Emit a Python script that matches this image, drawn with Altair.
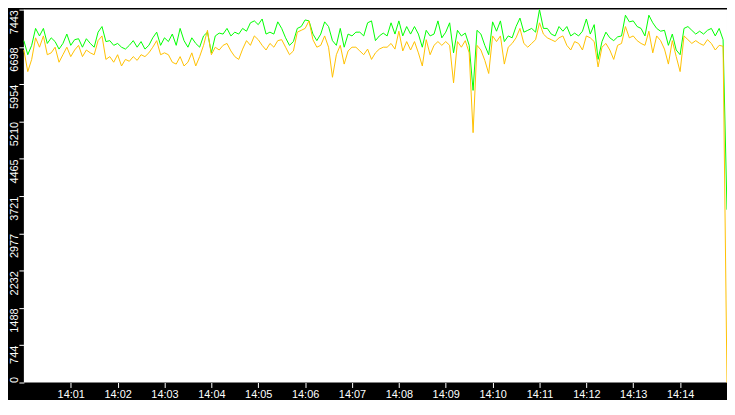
import altair as alt
import pandas as pd

# Series values (one point every 5 seconds, 14:00:00 .. 14:15:00)
green_vals = [
    6824, 6543, 6730, 7068, 6918, 7068, 6768, 6880, 6805, 6655,
    6768, 6955, 6730, 6843, 6862, 6693, 6862, 6768, 6693, 6993,
    7105, 6805, 6824, 6730, 6768, 6693, 6655, 6730, 6824, 6693,
    6805, 6655, 6730, 6880, 6993, 6730, 6880, 6805, 6955, 6730,
    7068, 6824, 6693, 6880, 6768, 6693, 6918, 6993, 6580, 6918,
    6974, 6955, 7068, 6918, 6993, 6955, 7068, 7012, 7180, 7218,
    7143, 7256, 6955, 6993, 6955, 7199, 7068, 6880, 6730, 6805,
    7068, 7105, 7237, 7218, 6955, 6824, 6955, 7199, 7105, 6824,
    6730, 7068, 6693, 6955, 6918, 6993, 6993, 6918, 7180, 7218,
    6824, 6918, 6974, 6918, 7180, 6955, 7218, 6918, 7105, 6955,
    7105, 6955, 6693, 7030, 6918, 6955, 7218, 6880, 6993, 7180,
    6580, 7030, 6918, 6974, 6730, 5831, 7030, 6955, 6730, 6543,
    7199, 7012, 7218, 6805, 6918, 6880, 7105, 7274, 6993, 7030,
    7068, 6993, 7443, 7068, 7068, 6955, 6918, 7105, 7012, 7105,
    6918, 6974, 6918, 7012, 7256, 6955, 7143, 6449, 6805, 6993,
    6880, 6824, 6899, 6918, 7331, 7199, 7218, 7105, 7068, 6918,
    7331, 7180, 7068, 7012, 7030, 6730, 6955, 6637, 6543, 7068,
    7105, 7030, 6955, 7012, 6955, 7030, 7068, 6918, 7068, 6843,
    3449,
]
orange_vals = [
    6637, 6206, 6449, 6880, 6693, 6918, 6543, 6580, 6693, 6393,
    6543, 6693, 6505, 6637, 6730, 6505, 6637, 6580, 6543, 6824,
    6918, 6449, 6505, 6393, 6543, 6318, 6449, 6412, 6505, 6430,
    6543, 6505, 6580, 6693, 6824, 6543, 6580, 6543, 6393, 6356,
    6505, 6318, 6393, 6580, 6318, 6505, 6730, 7030, 6543, 6693,
    6637, 6730, 6768, 6618, 6505, 6449, 6655, 6824, 6730, 6918,
    6843, 6730, 6637, 6768, 6693, 6824, 6843, 6693, 6543, 6618,
    6993, 7030, 7068, 7218, 6843, 6693, 6730, 6918, 6693, 6093,
    6543, 6730, 6356, 6618, 6693, 6693, 6618, 6543, 6655, 6449,
    6580, 6655, 6693, 6693, 6768, 6655, 7012, 6618, 6805, 6637,
    6805, 6580, 6318, 6843, 6543, 6730, 6805, 6730, 6805, 6730,
    5981, 6805, 6693, 6824, 6580, 4987, 6730, 6637, 6430, 6168,
    6918, 6805, 6918, 6356, 6693, 6768, 6880, 7068, 6768, 6693,
    6768, 6843, 7180, 6955, 6880, 6843, 6805, 6880, 6918, 6730,
    6637, 6805, 6768, 6637, 6918, 6880, 6805, 6299, 6693, 6768,
    6637, 6449, 6730, 6768, 7105, 6880, 6918, 6824, 6768, 6730,
    7012, 6580, 6918, 6824, 6655, 6356, 6824, 6505, 6206, 6918,
    6843, 6768, 6824, 6768, 6730, 6843, 6768, 6637, 6730, 6712,
    0,
]

# Axis tick labels
y_ticks = [0, 744, 1488, 2232, 2977, 3721, 4465, 5210, 5954, 6698, 7443]
x_tick_minutes = [1, 2, 3, 4, 5, 6, 7, 8, 9, 10, 11, 12, 13, 14]

GREEN = "#00ff00"
ORANGE = "#ffc000"
FONT = "Liberation Sans"

times = pd.date_range("2024-01-01 14:00:00", periods=len(green_vals), freq="5s")
df = pd.DataFrame({
    "time": times.strftime("%Y-%m-%dT%H:%M:%S"),
    "green": green_vals,
    "orange": orange_vals,
})

x_enc = alt.X(
    "time:T",
    scale=alt.Scale(
        domain=[
            alt.DateTime(year=2024, month=1, date=1, hours=14, minutes=0),
            alt.DateTime(year=2024, month=1, date=1, hours=14, minutes=15),
        ],
        nice=False,
    ),
    axis=alt.Axis(
        values=[alt.DateTime(year=2024, month=1, date=1, hours=14, minutes=m) for m in x_tick_minutes],
        format="%H:%M",
        title=None,
        grid=False,
        domain=False,
        tickColor="white",
        tickSize=5,
        labelColor="white",
        labelFont=FONT,
        labelFontSize=11,
        labelPadding=1,
        labelAlign="center",
    ),
)

y_scale = alt.Scale(domain=[0, 7443], nice=False, zero=True)
y_axis = alt.Axis(
    values=y_ticks,
    format="d",
    title=None,
    grid=False,
    domain=False,
    tickColor="white",
    tickSize=5,
    labelColor="white",
    labelFont=FONT,
    labelFontSize=11,
    labelAngle=270,
    labelAlign={"condition": {"test": "datum.value === 0", "value": "left"}, "value": "right"},
    labelBaseline="alphabetic",
    labelPadding=1,
)

base = alt.Chart(df)
g_line = base.mark_line(color=GREEN, strokeWidth=1).encode(
    x=x_enc,
    y=alt.Y("green:Q", scale=y_scale, axis=y_axis),
)
o_line = base.mark_line(color=ORANGE, strokeWidth=1).encode(
    x=x_enc,
    y=alt.Y("orange:Q", scale=y_scale, axis=y_axis),
)

chart = (
    alt.layer(g_line, o_line)
    .properties(
        width=709,
        height=376,
        autosize="none",
        padding={"left": 16, "top": 0, "right": 0, "bottom": 16},
    )
    .configure(background="black")
    .configure_view(fill="white", strokeWidth=0)
)

chart.save("out.html", embed_options={"renderer": "svg", "actions": False})
